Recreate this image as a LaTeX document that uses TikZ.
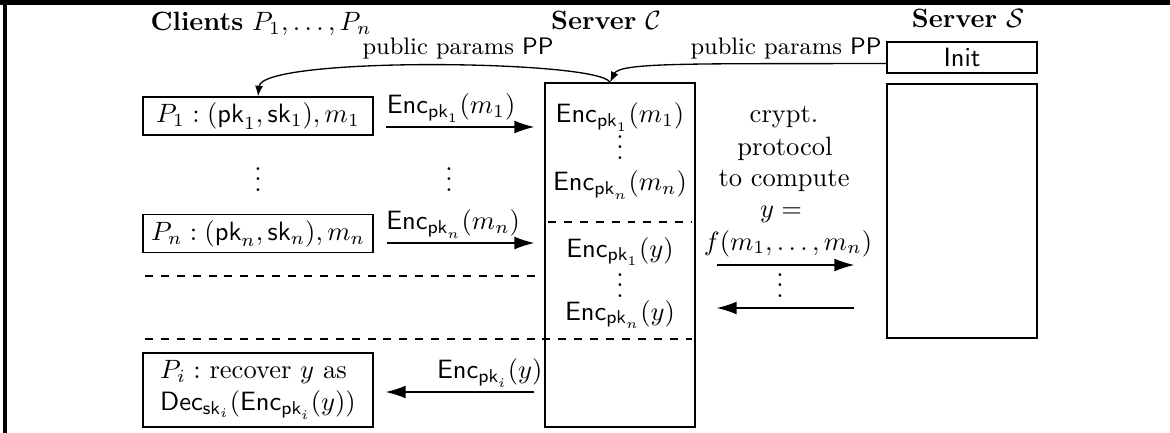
\documentclass[tikz,border=0pt]{standalone}
\usetikzlibrary{arrows.meta,calc}
\newcommand{\vdts}{\vbox{\baselineskip4pt\lineskiplimit0pt\hbox{.}\hbox{.}\hbox{.}}}
\begin{document}
\begin{tikzpicture}[x=0.3774pt,y=-0.3774pt,
  boxp/.style={draw,line width=0.5pt,minimum width=86.8pt,minimum height=14.3pt,inner sep=0pt},
  srv/.style={draw,line width=0.5pt,minimum width=56.6pt,inner sep=0pt},
  msg/.style={line width=0.5pt,-{Latex[length=7.5pt,width=4.8pt]}},
  pp/.style={line width=0.5pt,-{Latex[length=4pt,width=3pt]}},
  sepline/.style={dashed,line width=0.4pt},
  lbl/.style={inner sep=1.5pt},
  txt/.style={anchor=base,inner sep=0pt},
  dts/.style={anchor=south,inner sep=0pt}]
\useasboundingbox (0,0) rectangle (1170,433);
\fill (0,0) rectangle (1170,5);
\fill (3.3,0) rectangle (6.7,433);
% titles
\node[txt] (tc) at (261,31) {\textbf{Clients} $P_1,\ldots,P_n$};
\node[txt] (tC) at (606,30) {\textbf{Server} $\mathcal{C}$};
\node[txt] (tS) at (968,28) {\textbf{Server} $\mathcal{S}$};
% boxes
\node[srv,minimum height=11.7pt] (init) at (962,57.5) {$\mathsf{Init}$};
\node[srv,minimum height=95.9pt] (S) at (962,211) {};
\node[srv,minimum height=129.8pt] (C) at (620,255) {};
\node[boxp] (P1) at (258,116) {$P_1:(\mathsf{pk}_1,\mathsf{sk}_1),m_1$};
\node[boxp] (Pn) at (258,233.5) {$P_n:(\mathsf{pk}_n,\mathsf{sk}_n),m_n$};
\node[boxp,minimum height=27.9pt,align=left] (Pi) at (258,390) {$P_i:$ recover $y$ as\\ $\mathsf{Dec}_{\mathsf{sk}_i}(\mathsf{Enc}_{\mathsf{pk}_i}(y))$};
% left dots
\node[dts] (ld1) at (258,192) {\vdts};
\node[dts] (ld2) at (449,192) {\vdts};
% contents of C
\node[txt] (e1m) at (620,123) {$\mathsf{Enc}_{\mathsf{pk}_1}(m_1)$};
\node[dts] (cd1) at (620,160) {\vdts};
\node[txt] (enm) at (620,191) {$\mathsf{Enc}_{\mathsf{pk}_n}(m_n)$};
\node[txt] (e1y) at (620,257) {$\mathsf{Enc}_{\mathsf{pk}_1}(y)$};
\node[dts] (cd2) at (620,298) {\vdts};
\node[txt] (eny) at (620,320) {$\mathsf{Enc}_{\mathsf{pk}_n}(y)$};
% protocol text
\node[txt] (t1) at (784,123) {crypt.};
\node[txt] (t2) at (785,156) {protocol};
\node[txt] (t3) at (784,187) {to compute};
\node[txt] (t4) at (781,218) {$y=$};
\node[txt] (t5) at (788,250) {$f(m_1,\ldots,m_n)$};
\node[dts] (pd) at (780,298) {\vdts};
% dashed separators
\draw[sepline] (548,222) -- (692,222);
\draw[sepline] (145,276) -- (540,276);
\draw[sepline] (145,339) -- (692,339);
% public params
\coordinate (ppC) at ($(C.north)+(-10,0)$);
\draw[pp] ($(init.west)+(0,6)$) .. controls (700,64) and (620,62) .. (ppC);
\draw[pp] (ppC) .. controls (600,60) and (262,56) .. (P1.north);
\node[txt,font=\small] (pl1) at (458,55) {public params $\mathsf{PP}$};
\node[txt,font=\small] (pl2) at (786,55) {public params $\mathsf{PP}$};
% messages
\draw[msg] ($(P1.east)+(12,11)$) -- node[lbl,above,pos=0.44] (m1) {$\mathsf{Enc}_{\mathsf{pk}_1}(m_1)$} ($(P1.east -| C.west)+(-10,11)$);
\draw[msg] ($(Pn.east)+(13,9.5)$) -- node[lbl,above,pos=0.45] (m2) {$\mathsf{Enc}_{\mathsf{pk}_n}(m_n)$} ($(Pn.east -| C.west)+(-10,9.5)$);
\draw[msg] ($(Pi.east -| C.west)+(-10,2)$) -- node[lbl,above,pos=0.3] (m3) {$\mathsf{Enc}_{\mathsf{pk}_i}(y)$} ($(Pi.east)+(12,2)$);
\coordinate (r1) at (0,265);
\coordinate (r2) at (0,308);
\draw[msg] ($(C.east |- r1)+(21,0)$) -- ($(S.west |- r1)+(-32,0)$);
\draw[msg] ($(S.west |- r2)+(-32,0)$) -- ($(C.east |- r2)+(21,0)$);
\end{tikzpicture}
\end{document}
